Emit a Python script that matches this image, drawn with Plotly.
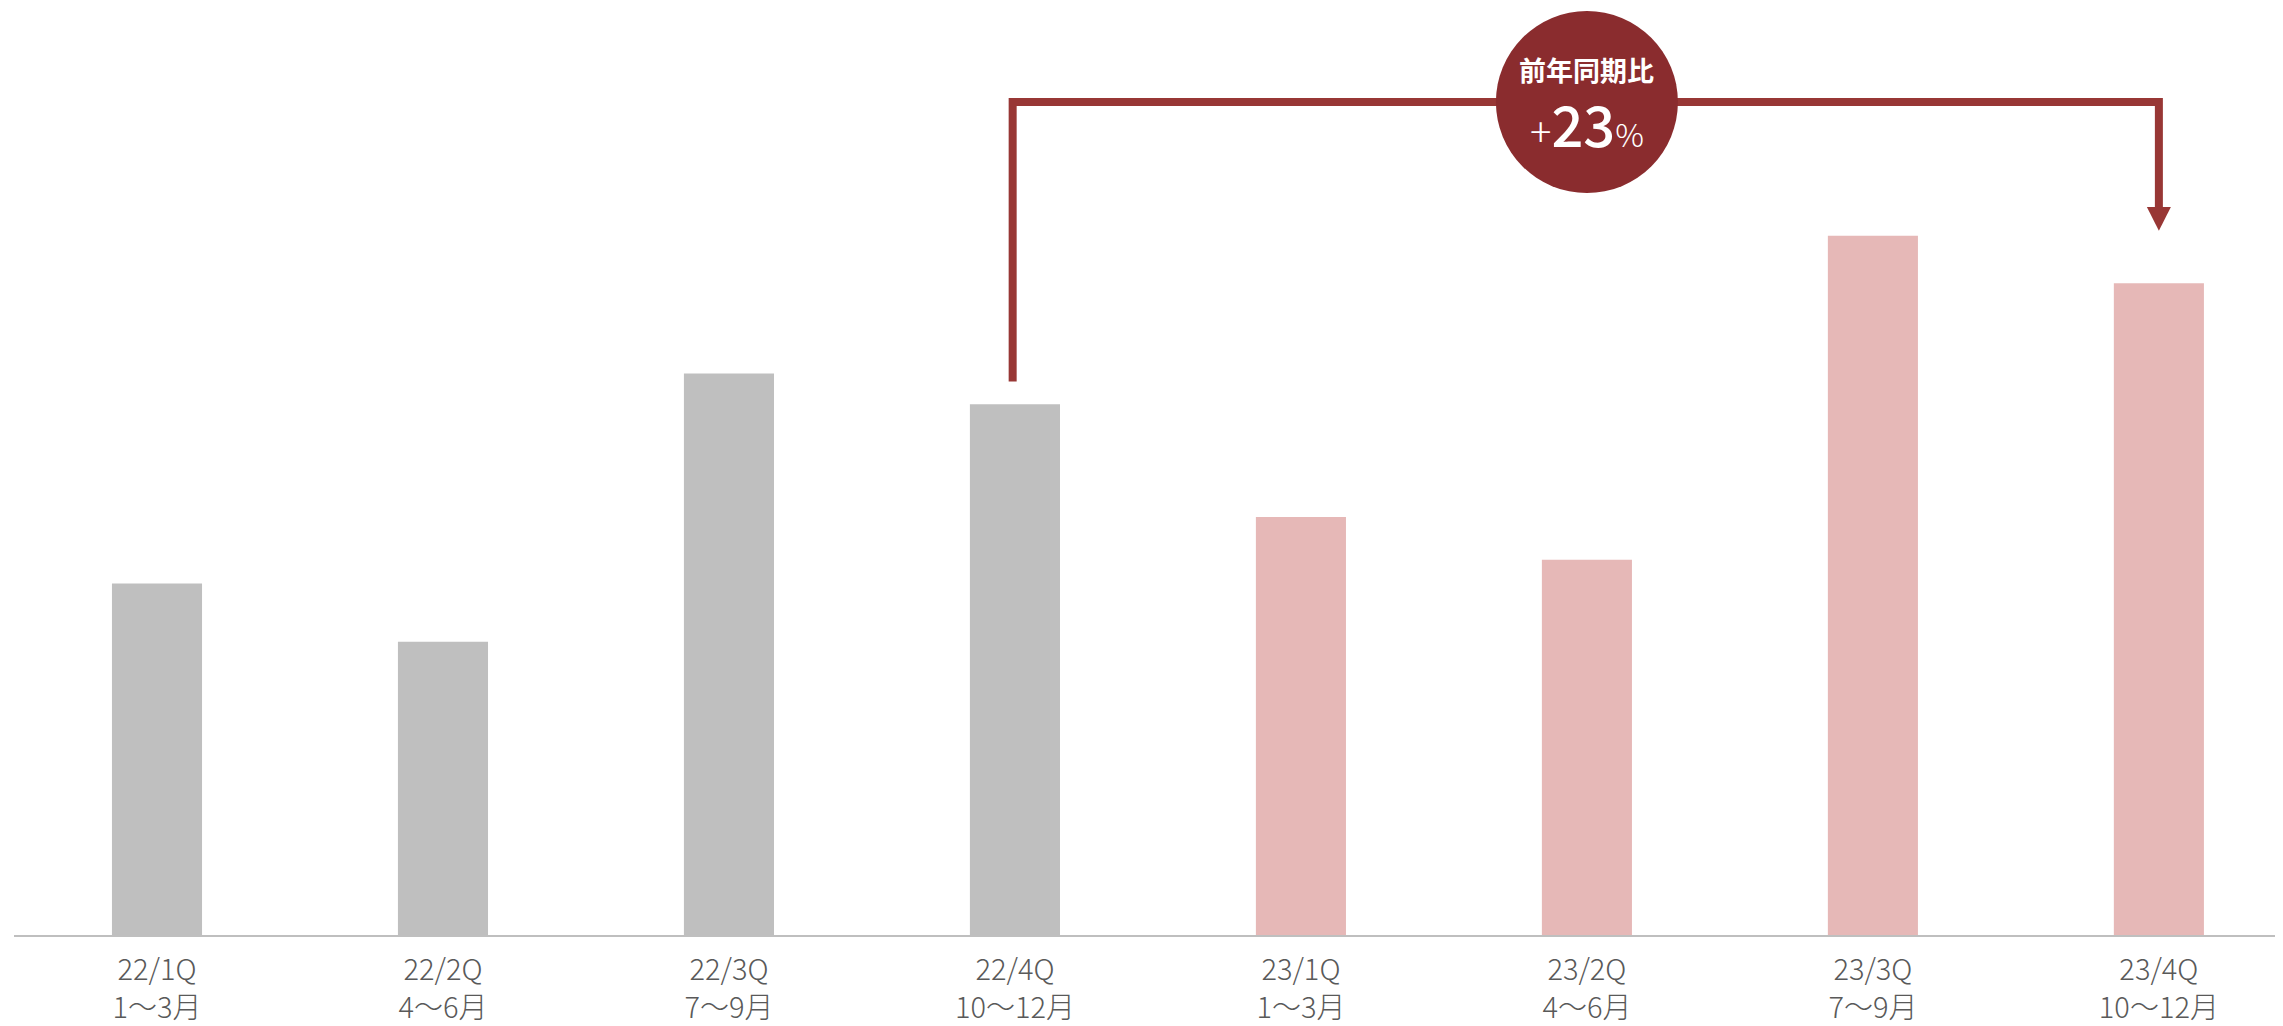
import plotly.graph_objects as go

# Data (relative values)
quarters = ["22/1Q", "22/2Q", "22/3Q", "22/4Q", "23/1Q", "23/2Q", "23/3Q", "23/4Q"]
months = ["1〜3月", "4〜6月", "7〜9月", "10〜12月", "1〜3月", "4〜6月", "7〜9月", "10〜12月"]
values = [355, 296, 567, 536, 422, 379, 706, 658]
bar_colors = ["#BFBFBF"] * 4 + ["#E6B8B7"] * 4
yoy_label_top = "前年同期比"
yoy_value = "23"

tick_text = [f"{q}<br>{m}" for q, m in zip(quarters, months)]
xs = list(range(len(quarters)))

FONT = "Noto Sans CJK JP"
LINE_COLOR = "#983735"
CIRCLE_COLOR = "#8A2C2E"

fig = go.Figure()
fig.add_trace(go.Bar(
    x=xs, y=values, marker=dict(color=bar_colors, line=dict(width=0)),
    width=0.315, hoverinfo="skip",
))

# bracket geometry in data units
src = 3
dst = 7
y_top = 841
y_src_start = 559
head_top = 735
head_tip = 711
hw = 12 / 286

path = f"M {src - 0.008},{y_src_start} L {src - 0.008},{y_top} L {dst},{y_top} L {dst},{head_top}"
shapes = [
    dict(type="path", path=path, xref="x", yref="y",
         line=dict(color=LINE_COLOR, width=8), fillcolor="rgba(0,0,0,0)", layer="above"),
    dict(type="path", path=f"M {dst - hw},{head_top} L {dst + hw},{head_top} L {dst},{head_tip} Z",
         xref="x", yref="y", line=dict(width=0), fillcolor=LINE_COLOR, layer="above"),
    dict(type="circle", xref="x", yref="y", xsizemode="pixel", ysizemode="pixel",
         xanchor=(src + dst) / 2, yanchor=y_top, x0=-91, x1=91, y0=-91, y1=91,
         fillcolor=CIRCLE_COLOR, line=dict(width=0), layer="above"),
]

annotations = [
    dict(x=(src + dst) / 2, y=y_top, xref="x", yref="y", yshift=33,
         text=f"<b>{yoy_label_top}</b>", showarrow=False,
         font=dict(family=FONT, size=27, color="white")),
    dict(x=(src + dst) / 2, y=y_top, xref="x", yref="y", yshift=-20,
         text=f"<span style='font-size:40px;font-weight:300'>+</span>{yoy_value}<span style='font-size:32px;font-weight:300'>%</span>",
         showarrow=False,
         font=dict(family=FONT, size=56, color="white", weight=500)),
]

fig.update_layout(
    width=2275, height=1018,
    margin=dict(l=6, r=0, t=0, b=82),
    paper_bgcolor="white", plot_bgcolor="white",
    showlegend=False,
    shapes=shapes, annotations=annotations,
    xaxis=dict(
        range=[-0.5, 7.434], tickmode="array", tickvals=xs, ticktext=tick_text,
        showgrid=False, zeroline=False, showline=True, linecolor="#BFBFBF", linewidth=2,
        ticks="", ticklabelstandoff=8,
        tickfont=dict(family=FONT, size=29, color="#595959", weight=300),
        fixedrange=True,
    ),
    yaxis=dict(range=[0, 936], visible=False, fixedrange=True),
)

fig.write_html("out.html")
